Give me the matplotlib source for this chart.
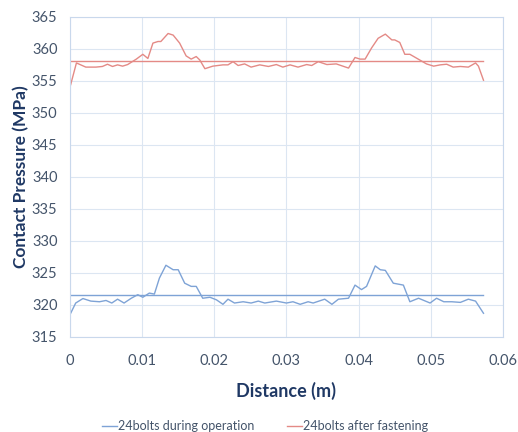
import matplotlib
matplotlib.use('Agg')
import matplotlib.pyplot as plt
import numpy as np

plt.rcParams['font.family'] = ['Lato', 'DejaVu Sans']

# 24 bolts during operation
x_op = [0.0001, 0.0008, 0.0018, 0.0029, 0.0041, 0.0050, 0.0058, 0.0066, 0.0075, 0.0085,
        0.0094, 0.0101, 0.0110, 0.0117, 0.0124, 0.0133, 0.0143, 0.0150, 0.0159, 0.0168,
        0.0175, 0.0184, 0.0194, 0.0203, 0.0212, 0.0219, 0.0228, 0.0240, 0.0251, 0.0261,
        0.0270, 0.0286, 0.0300, 0.0309, 0.0319, 0.0330, 0.0337, 0.0353, 0.0363, 0.0372,
        0.0386, 0.0395, 0.0404, 0.0411, 0.0423, 0.0430, 0.0437, 0.0448, 0.0462, 0.0471,
        0.0483, 0.0499, 0.0508, 0.0518, 0.0529, 0.0541, 0.0552, 0.0562, 0.0573]
p_op = [318.7, 320.3, 321.0, 320.6, 320.5, 320.7, 320.3, 320.9, 320.3, 321.05,
        321.6, 321.2, 321.85, 321.7, 324.2, 326.2, 325.5, 325.5, 323.4, 322.9,
        322.9, 321.05, 321.2, 320.8, 320.1, 320.9, 320.3, 320.5, 320.3, 320.6,
        320.3, 320.6, 320.3, 320.5, 320.1, 320.5, 320.3, 320.9, 320.1, 320.9,
        321.05, 323.1, 322.4, 322.9, 326.1, 325.5, 325.4, 323.4, 323.1, 320.5,
        321.05, 320.3, 321.05, 320.5, 320.5, 320.4, 320.9, 320.6, 318.7]
mean_op = 321.5

# 24 bolts after fastening
x_fa = [0.0001, 0.0009, 0.0022, 0.0036, 0.0045, 0.0052, 0.0059, 0.0066, 0.0073, 0.0080,
        0.0092, 0.0101, 0.0108, 0.0115, 0.0122, 0.0126, 0.0136, 0.0143, 0.0152, 0.0161,
        0.0168, 0.0175, 0.0180, 0.0187, 0.0198, 0.0212, 0.0219, 0.0226, 0.0233, 0.0242,
        0.0251, 0.0263, 0.0275, 0.0286, 0.0295, 0.0305, 0.0316, 0.0328, 0.0335, 0.0344,
        0.0356, 0.0369, 0.0386, 0.0395, 0.0402, 0.0409, 0.0418, 0.0427, 0.0437, 0.0446,
        0.0450, 0.0457, 0.0464, 0.0471, 0.0481, 0.0494, 0.0504, 0.0513, 0.0522, 0.0531,
        0.0541, 0.0552, 0.0562, 0.0566, 0.0573]
p_fa = [354.4, 357.8, 357.15, 357.15, 357.25, 357.6, 357.25, 357.5, 357.3, 357.55,
        358.4, 359.15, 358.5, 360.9, 361.15, 361.15, 362.4, 362.15, 360.9, 358.9,
        358.4, 358.8, 358.25, 356.9, 357.3, 357.5, 357.5, 358.0, 357.4, 357.65,
        357.15, 357.5, 357.25, 357.55, 357.15, 357.5, 357.15, 357.55, 357.4, 358.0,
        357.55, 357.65, 357.0, 358.65, 358.4, 358.4, 360.15, 361.65, 362.3, 361.4,
        361.4, 361.0, 359.15, 359.15, 358.5, 357.65, 357.3, 357.5, 357.6, 357.15,
        357.25, 357.15, 357.8, 357.3, 355.1]
mean_fa = 358.1

c_op = '#7ea3d6'
c_fa = '#e48a86'
grid_c = '#dce6f2'
text_c = '#44546a'
title_c = '#1f3864'

fig = plt.figure(figsize=(5.18, 4.32), dpi=100)
ax = fig.add_axes([0.135, 0.22, 0.836, 0.741])

ax.plot(x_op, p_op, color=c_op, lw=1.0, label='24bolts during operation')
ax.plot([x_op[0], x_op[-1]], [mean_op, mean_op], color=c_op, lw=1.0)
ax.plot(x_fa, p_fa, color=c_fa, lw=1.0, label='24bolts after fastening')
ax.plot([x_fa[0], x_fa[-1]], [mean_fa, mean_fa], color=c_fa, lw=1.0)

ax.set_xlim(0, 0.06)
ax.set_ylim(315, 365)
ax.set_xticks(np.arange(0, 0.061, 0.01))
ax.set_xticklabels(['0', '0.01', '0.02', '0.03', '0.04', '0.05', '0.06'])
ax.set_yticks(np.arange(315, 366, 5))
ax.grid(True, color=grid_c, lw=0.8)
ax.set_axisbelow(True)
for s in ax.spines.values():
    s.set_color('#c9d8ec')
    s.set_linewidth(0.8)
ax.tick_params(axis='x', length=0, colors=text_c, labelsize=10.5, pad=12)
ax.tick_params(axis='y', length=0, colors=text_c, labelsize=10.5, pad=9)

ax.set_xlabel('Distance (m)', fontsize=13, fontweight='bold', color=title_c, labelpad=10)
ax.set_ylabel('Contact Pressure (MPa)', fontsize=12.5, fontweight='bold', color=title_c, labelpad=2)

leg = ax.legend(loc='upper center', bbox_to_anchor=(0.45, -0.225), ncol=2, frameon=False,
                fontsize=9, handlelength=1.2, handletextpad=0.1, columnspacing=2.6)
for t in leg.get_texts():
    t.set_color(text_c)

fig.savefig('out.png', dpi=100)
